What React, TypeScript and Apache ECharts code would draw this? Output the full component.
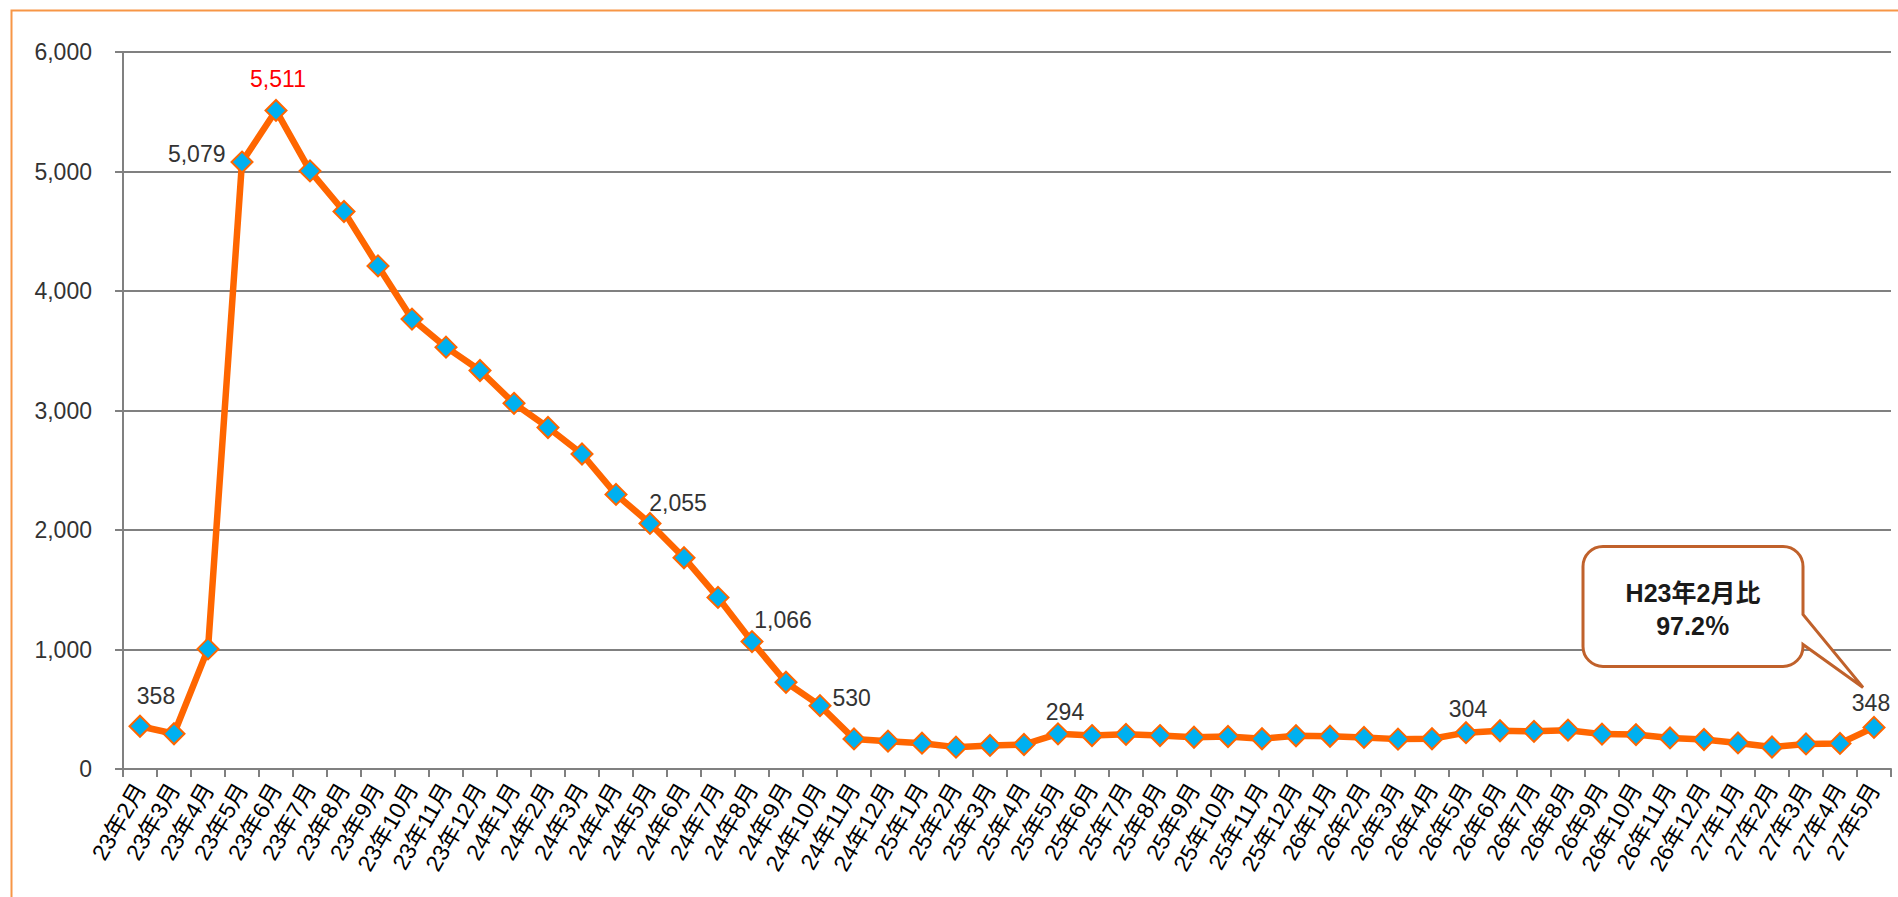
import React, { useEffect, useRef } from "react";
import * as echarts from "echarts";

const categories = [
  "23年2月", "23年3月", "23年4月", "23年5月", "23年6月", "23年7月", "23年8月", "23年9月", "23年10月", "23年11月", "23年12月",
  "24年1月", "24年2月", "24年3月", "24年4月", "24年5月", "24年6月", "24年7月", "24年8月", "24年9月", "24年10月", "24年11月", "24年12月",
  "25年1月", "25年2月", "25年3月", "25年4月", "25年5月", "25年6月", "25年7月", "25年8月", "25年9月", "25年10月", "25年11月", "25年12月",
  "26年1月", "26年2月", "26年3月", "26年4月", "26年5月", "26年6月", "26年7月", "26年8月", "26年9月", "26年10月", "26年11月", "26年12月",
  "27年1月", "27年2月", "27年3月", "27年4月", "27年5月",
];

const values = [
  358, 295, 1005, 5079, 5511, 5005, 4665, 4210, 3765, 3530, 3335,
  3060, 2858, 2636, 2298, 2055, 1768, 1436, 1066, 726, 530, 252, 233,
  216, 183, 197, 205, 294, 280, 290, 280, 266, 272, 253, 278,
  274, 264, 250, 253, 304, 320, 315, 325, 292, 288, 260, 247,
  218, 184, 210, 214, 348,
];

const yTicks = { min: 0, max: 6000, interval: 1000 };

const calloutLines = ["H23年2月比", "97.2％"];

// label placement for the annotated points (style only)
const labelStyles: Record<string, any> = {
  "23年2月": { position: "top", offset: [16, -2] },
  "23年5月": { position: "left", offset: [0, -8] },
  "23年6月": { position: "top", offset: [2, -3], color: "#FF0000" },
  "24年5月": { position: "top", offset: [28, 8] },
  "24年8月": { position: "top", offset: [31, 6] },
  "24年10月": { position: "right", offset: [-4, -8] },
  "25年5月": { position: "top", offset: [7, 6] },
  "26年5月": { position: "top", offset: [2, 4] },
  "27年5月": { position: "top", offset: [-3, 4] },
};

const FONT = "'Liberation Sans', 'Noto Sans CJK JP', sans-serif";
const LINE = "#FF6600";
const MARK = "#00B0F0";
const GRID = "#808080";
const FRAME = "#F79646";
const CALLOUT = "#C0612B";

const calloutPath =
  "M20,0 H200 A20,20 0 0 1 220,20 V68 L280,141 L220,98 V100 A20,20 0 0 1 200,120 H20 A20,20 0 0 1 0,100 V20 A20,20 0 0 1 20,0 Z";

let registered = false;
function ensureShape() {
  if (registered) return;
  echarts.graphic.registerShape("callout", echarts.graphic.extendPath(calloutPath, {}) as any);
  registered = true;
}

export default function App() {
  const ref = useRef<HTMLDivElement>(null);

  useEffect(() => {
    if (!ref.current) return;
    ensureShape();
    const chart = echarts.init(ref.current, null, { renderer: "svg" });

    const data = values.map((v, i) => {
      const s = labelStyles[categories[i]];
      if (!s) return v;
      return {
        value: v,
        label: {
          show: true,
          position: s.position,
          offset: s.offset,
          color: s.color || "#333333",
          fontSize: 23,
          fontFamily: FONT,
          formatter: (p: any) => Number(p.value).toLocaleString("en-US"),
        },
      };
    });

    chart.setOption({
      animation: false,
      backgroundColor: "#ffffff",
      grid: { left: 123, right: 7, top: 52, bottom: 128, containLabel: false },
      xAxis: {
        type: "category",
        data: categories,
        boundaryGap: true,
        axisLine: { show: true, lineStyle: { color: GRID, width: 2 } },
        axisTick: { show: true, length: 8, lineStyle: { color: GRID, width: 2 } },
        axisLabel: {
          interval: 0,
          rotate: 60,
          margin: 16,
          color: "#000000",
          fontSize: 23,
          fontFamily: FONT,
        },
        splitLine: { show: false },
      },
      yAxis: {
        type: "value",
        min: yTicks.min,
        max: yTicks.max,
        interval: yTicks.interval,
        axisLine: { show: true, lineStyle: { color: GRID, width: 2 } },
        axisTick: { show: true, length: 8, lineStyle: { color: GRID, width: 2 } },
        axisLabel: {
          margin: 31,
          color: "#333333",
          fontSize: 23,
          fontFamily: FONT,
          formatter: (v: number) => v.toLocaleString("en-US"),
        },
        splitLine: { show: true, lineStyle: { color: GRID, width: 2 } },
      },
      series: [
        {
          type: "line",
          data,
          symbol: "diamond",
          symbolSize: 21,
          lineStyle: { color: LINE, width: 6.5 },
          itemStyle: { color: MARK, borderColor: LINE, borderWidth: 2 },
          label: { show: false },
          z: 3,
        },
      ],
    });

    const last = values.length - 1;
    const p = chart.convertToPixel({ xAxisIndex: 0, yAxisIndex: 0 }, [last, values[last]]) as number[];
    const ox = p[0] - 291;
    const oy = p[1] - 181;

    chart.setOption({
      graphic: [
        {
          type: "rect",
          left: 9,
          top: 8,
          shape: { x: 0, y: 0, width: 2100, height: 1100 },
          style: { fill: "none", stroke: FRAME, lineWidth: 2 },
          silent: true,
          z: 0,
        },
        {
          type: "callout",
          x: ox,
          y: oy,
          scaleX: 1,
          scaleY: 1,
          style: { fill: "#ffffff", stroke: CALLOUT, lineWidth: 3 },
          z: 10,
        },
        {
          type: "text",
          x: ox + 110,
          y: oy + 47,
          style: {
            text: calloutLines[0],
            fill: "#1a1a1a",
            font: `bold 25px ${FONT}`,
            align: "center",
            verticalAlign: "middle",
          },
          z: 11,
        },
        {
          type: "text",
          x: ox + 110,
          y: oy + 80,
          style: {
            text: calloutLines[1],
            fill: "#1a1a1a",
            font: `bold 25px ${FONT}`,
            align: "center",
            verticalAlign: "middle",
          },
          z: 11,
        },
      ],
    });

    return () => chart.dispose();
  }, []);

  return (
    <div
      ref={ref}
      style={{ position: "fixed", left: 0, top: 0, width: 1898, height: 897, background: "#fff" }}
    />
  );
}
